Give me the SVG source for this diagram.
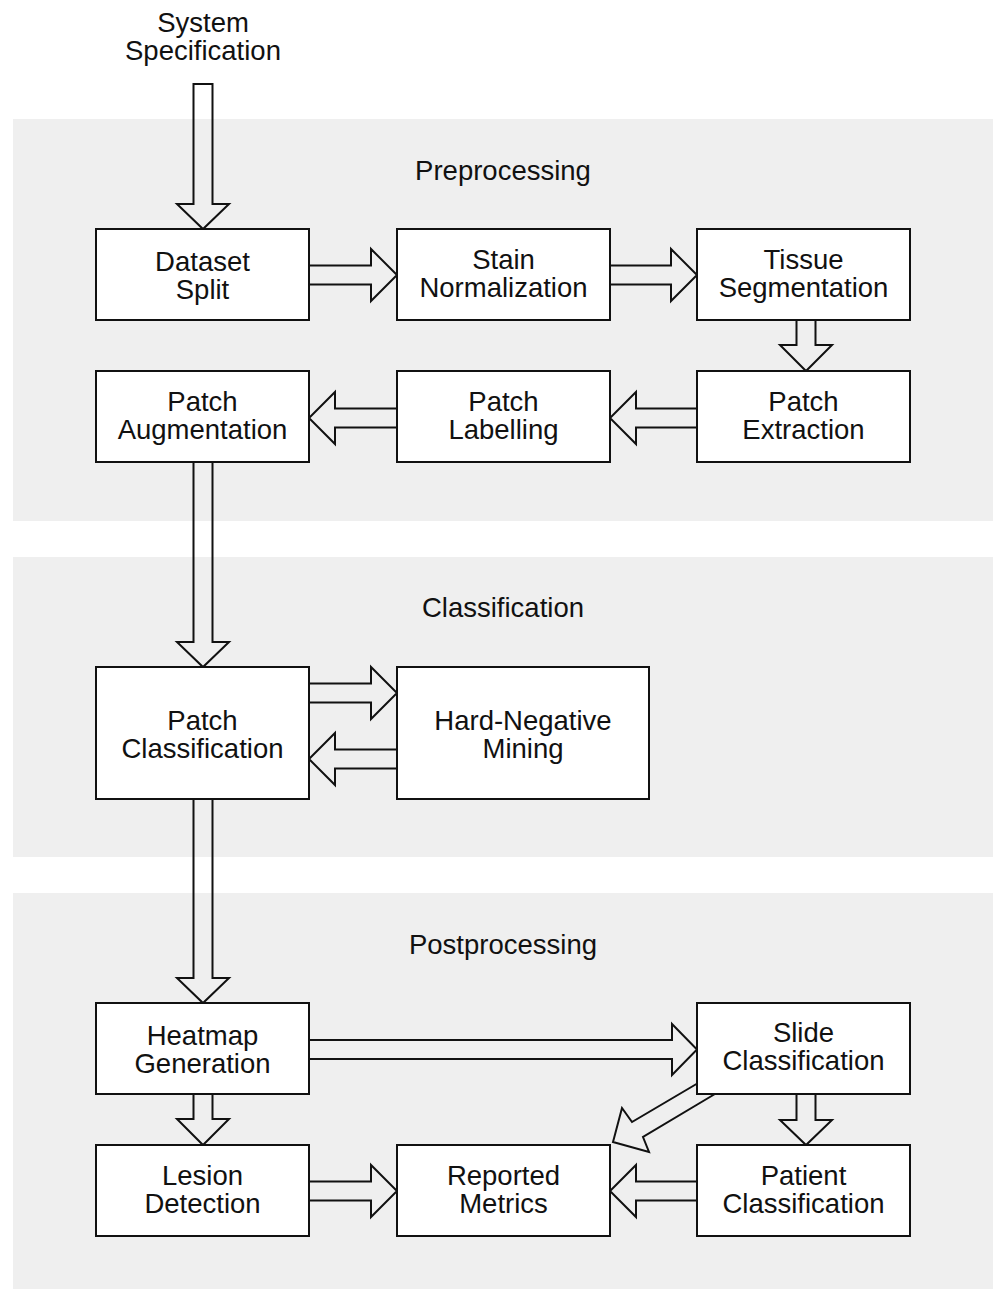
<svg xmlns="http://www.w3.org/2000/svg" width="998" height="1289" viewBox="0 0 998 1289">
<style>
.panel{fill:#efefef;stroke:none}
.box{fill:#ffffff;stroke:#111111;stroke-width:2}
.arr{fill:none;stroke:#111111;stroke-width:2;stroke-linejoin:miter}
text{font-family:"Liberation Sans",Arial,Helvetica,sans-serif;font-size:27.5px;fill:#111111;text-anchor:middle}
</style>
<rect width="998" height="1289" fill="#ffffff"/>
<g id="panels">
<rect class="panel" x="13" y="119" width="980" height="402"/>
<rect class="panel" x="13" y="557" width="980" height="300"/>
<rect class="panel" x="13" y="893" width="980" height="396"/>
<text x="503" y="180">Preprocessing</text>
<text x="503" y="617">Classification</text>
<text x="503" y="954">Postprocessing</text>
</g>
<g id="connectors">
<polygon class="arr" points="193.5,84 212.5,84 212.5,204 229,204 203,229 177,204 193.5,204"/>
<polygon class="arr" points="309,265.5 371,265.5 371,249 397,275 371,301 371,284.5 309,284.5"/>
<polygon class="arr" points="610,265.5 671,265.5 671,249 697,275 671,301 671,284.5 610,284.5"/>
<polygon class="arr" points="796.5,320 815.5,320 815.5,345 832,345 806,371 780,345 796.5,345"/>
<polygon class="arr" points="697,408.5 636,408.5 636,392 610,418 636,444 636,427.5 697,427.5"/>
<polygon class="arr" points="397,408.5 335,408.5 335,392 309,418 335,444 335,427.5 397,427.5"/>
<polygon class="arr" points="193.5,462 212.5,462 212.5,642 229,642 203,667 177,642 193.5,642"/>
<polygon class="arr" points="309,683.5 371,683.5 371,667 397,693 371,719 371,702.5 309,702.5"/>
<polygon class="arr" points="397,749.5 335,749.5 335,733 309,759 335,785 335,768.5 397,768.5"/>
<polygon class="arr" points="193.5,799 212.5,799 212.5,978 229,978 203,1003 177,978 193.5,978"/>
<polygon class="arr" points="309,1040 672,1040 672,1024 697,1049.5 672,1075 672,1059 309,1059"/>
<polygon class="arr" points="193.5,1094 212.5,1094 212.5,1119 229,1119 203,1145 177,1119 193.5,1119"/>
<polygon class="arr" points="796.5,1094 815.5,1094 815.5,1120 832,1120 806,1145 780,1120 796.5,1120"/>
<polygon class="arr" points="309,1181.5 371,1181.5 371,1165 397,1191 371,1217 371,1200.5 309,1200.5"/>
<polygon class="arr" points="697,1181.5 636,1181.5 636,1165 610,1191 636,1217 636,1200.5 697,1200.5"/>
<polygon class="arr" points="710,1076 632,1122 622,1108 613,1142 649,1152 643,1137 725,1088"/>
</g>
<g id="system-specification">
<text x="203" y="32">System</text>
<text x="203" y="60">Specification</text>
</g>
<g id="dataset-split">
<rect class="box" x="96" y="229" width="213" height="91"/>
<text x="202.5" y="271">Dataset</text>
<text x="202.5" y="299">Split</text>
</g>
<g id="stain-normalization">
<rect class="box" x="397" y="229" width="213" height="91"/>
<text x="503.5" y="269">Stain</text>
<text x="503.5" y="297">Normalization</text>
</g>
<g id="tissue-segmentation">
<rect class="box" x="697" y="229" width="213" height="91"/>
<text x="803.5" y="269">Tissue</text>
<text x="803.5" y="297">Segmentation</text>
</g>
<g id="patch-augmentation">
<rect class="box" x="96" y="371" width="213" height="91"/>
<text x="202.5" y="411">Patch</text>
<text x="202.5" y="439">Augmentation</text>
</g>
<g id="patch-labelling">
<rect class="box" x="397" y="371" width="213" height="91"/>
<text x="503.5" y="411">Patch</text>
<text x="503.5" y="439">Labelling</text>
</g>
<g id="patch-extraction">
<rect class="box" x="697" y="371" width="213" height="91"/>
<text x="803.5" y="411">Patch</text>
<text x="803.5" y="439">Extraction</text>
</g>
<g id="patch-classification">
<rect class="box" x="96" y="667" width="213" height="132"/>
<text x="202.5" y="729.5">Patch</text>
<text x="202.5" y="757.5">Classification</text>
</g>
<g id="hard-negative-mining">
<rect class="box" x="397" y="667" width="252" height="132"/>
<text x="523" y="729.5">Hard-Negative</text>
<text x="523" y="757.5">Mining</text>
</g>
<g id="heatmap-generation">
<rect class="box" x="96" y="1003" width="213" height="91"/>
<text x="202.5" y="1045">Heatmap</text>
<text x="202.5" y="1073">Generation</text>
</g>
<g id="slide-classification">
<rect class="box" x="697" y="1003" width="213" height="91"/>
<text x="803.5" y="1042">Slide</text>
<text x="803.5" y="1070">Classification</text>
</g>
<g id="lesion-detection">
<rect class="box" x="96" y="1145" width="213" height="91"/>
<text x="202.5" y="1185">Lesion</text>
<text x="202.5" y="1213">Detection</text>
</g>
<g id="reported-metrics">
<rect class="box" x="397" y="1145" width="213" height="91"/>
<text x="503.5" y="1185">Reported</text>
<text x="503.5" y="1213">Metrics</text>
</g>
<g id="patient-classification">
<rect class="box" x="697" y="1145" width="213" height="91"/>
<text x="803.5" y="1185">Patient</text>
<text x="803.5" y="1213">Classification</text>
</g>
</svg>
